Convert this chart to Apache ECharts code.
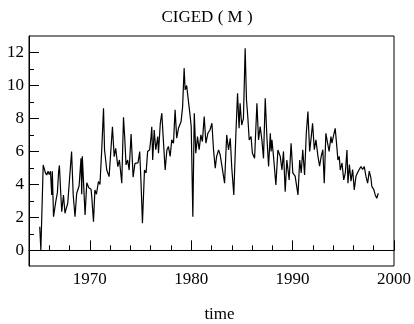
<!DOCTYPE html>
<html>
<head>
<meta charset="utf-8">
<script src="https://cdn.jsdelivr.net/npm/echarts@6/dist/echarts.min.js"></script>
<style>html,body{margin:0;padding:0;background:#fff}#c{width:414px;height:324px}</style>
</head>
<body>
<div id="c"></div>
<script>
var years = [
1965.06,1965.17,1965.40,1965.50,1965.62,1965.75,1965.88,1966.00,1966.12,1966.24,1966.30,1966.42,1966.64,1966.80,1966.92,1967.00,1967.12,1967.23,1967.40,1967.55,1967.70,1967.82,1967.95,
1968.20,1968.36,1968.54,1968.70,1968.94,1969.13,1969.20,1969.26,1969.53,1969.70,1969.90,1970.12,1970.19,1970.36,1970.50,1970.65,1970.85,1971.00,1971.18,1971.35,1971.45,1971.67,1971.90,
1972.23,1972.40,1972.55,1972.76,1972.92,1973.15,1973.32,1973.45,1973.57,1973.73,1973.88,1974.07,1974.27,1974.45,1974.75,1974.92,1975.05,1975.19,1975.39,1975.55,1975.70,1975.90,
1976.04,1976.11,1976.20,1976.35,1976.50,1976.70,1976.77,1976.95,1977.10,1977.25,1977.43,1977.60,1977.75,1977.92,1978.08,1978.25,1978.41,1978.57,1978.74,1979.00,1979.15,1979.30,
1979.40,1979.55,1979.73,1979.90,1980.00,1980.16,1980.30,1980.45,1980.62,1980.78,1980.95,1981.10,1981.28,1981.45,1981.64,1981.85,1982.04,1982.20,1982.37,1982.50,1982.70,1982.85,
1983.05,1983.29,1983.50,1983.68,1983.85,1984.00,1984.20,1984.40,1984.57,1984.72,1984.82,1984.98,1985.15,1985.32,1985.45,1985.58,1985.72,1985.90,1986.03,1986.25,1986.48,1986.64,
1986.80,1986.97,1987.13,1987.30,1987.46,1987.63,1987.80,1987.88,1987.96,1988.12,1988.35,1988.55,1988.78,1988.95,1989.10,1989.27,1989.43,1989.66,1989.85,1990.02,1990.25,1990.53,
1990.70,1990.85,1991.00,1991.18,1991.35,1991.51,1991.68,1991.84,1991.97,1992.14,1992.30,1992.50,1992.66,1992.82,1992.98,1993.12,1993.28,1993.45,1993.60,1993.78,1993.88,1994.05,
1994.20,1994.33,1994.47,1994.60,1994.70,1994.87,1995.04,1995.20,1995.36,1995.46,1995.60,1995.76,1995.92,1996.08,1996.25,1996.40,1996.57,1996.74,1996.90,1997.07,1997.23,1997.40,
1997.56,1997.72,1997.82,1998.00,1998.15,1998.30,1998.45
];
var values = [
1.43,0.0,5.18,5.28,4.7,4.57,4.8,4.6,4.8,3.36,4.8,2.04,2.95,3.5,4.77,5.15,3.6,2.34,3.36,2.25,2.6,2.85,2.8,
5.99,3.36,2.04,3.45,3.9,5.58,3.4,5.7,2.14,4.1,3.8,3.7,3.26,1.74,3.66,3.4,4.17,4.0,6.19,8.62,6.1,4.87,4.47,
7.5,5.68,6.19,5.08,5.48,4.07,8.07,6.74,5.18,5.48,4.87,7.06,4.43,5.28,5.3,5.99,4.07,1.64,4.87,4.7,6.0,6.1,
6.9,7.5,5.48,7.3,6.1,6.9,5.89,7.71,8.32,6.7,4.87,6.09,6.3,5.7,6.7,6.5,8.52,6.8,7.4,7.81,8.7,11.05,
9.73,10.0,9.02,8.11,7.5,2.04,8.32,5.89,6.9,6.1,7.0,6.6,8.11,6.5,7.1,7.3,7.71,6.09,4.98,5.68,6.09,5.8,
5.03,4.07,7.0,6.09,6.8,5.0,3.36,7.0,9.53,7.4,8.92,7.6,8.0,12.26,9.13,8.1,6.7,6.9,5.9,5.58,8.92,6.7,
7.5,6.7,5.58,9.23,6.9,5.08,7.1,6.0,6.7,5.68,3.96,6.09,5.7,4.87,6.0,3.56,5.48,4.27,6.5,4.7,4.5,3.36,
5.48,4.7,6.1,4.57,7.1,8.42,6.0,6.9,7.71,6.1,6.7,5.7,5.1,5.7,6.1,4.07,7.1,6.5,6.0,6.9,6.5,7.0,
7.4,6.5,5.48,5.7,4.87,5.3,4.27,4.7,6.09,4.07,5.2,4.2,4.9,3.66,4.5,4.7,4.9,5.08,4.9,5.08,4.5,4.07,
4.8,4.4,3.86,3.7,3.36,3.16,3.46
];
var xLabelTicks = [1970, 1980, 1990, 2000];
var xMinorTicks = [1966, 1968, 1972, 1974, 1976, 1978, 1982, 1984, 1986, 1988, 1992, 1994, 1996, 1998];
var yLabelTicks = [0, 2, 4, 6, 8, 10, 12];
var yMinorTicks = [1, 3, 5, 7, 9, 11];
var titleText = 'CIGED ( M )';
var xName = 'time';

var data = years.map(function (y, i) { return [y, values[i]]; });
var font = 'Liberation Serif';
var chart = echarts.init(document.getElementById('c'), null, {renderer: 'canvas'});
var xBase = {type: 'value', min: 1964, max: 2000, splitLine: {show: false}};
var yBase = {type: 'value', min: -0.95, max: 13, splitLine: {show: false}};
function plain(v) { return String(v); }
chart.setOption({
  animation: false,
  backgroundColor: '#fff',
  title: {text: titleText, left: 'center', top: 4, textStyle: {fontFamily: font, fontSize: 17, fontWeight: 'normal', color: '#000'}},
  grid: {left: 29, right: 20, top: 36, bottom: 58, outerBoundsMode: 'none', containLabel: false, show: true, borderColor: '#000', borderWidth: 1, backgroundColor: 'transparent'},
  xAxis: [
    Object.assign({}, xBase, {
      name: xName, nameLocation: 'middle', nameGap: 40,
      nameTextStyle: {fontFamily: font, fontSize: 17, color: '#000', padding: [0, 0, 0, 16]},
      axisLine: {show: true, lineStyle: {color: '#000'}},
      axisTick: {show: true, inside: true, length: 10, customValues: xLabelTicks, lineStyle: {color: '#000'}},
      axisLabel: {show: true, customValues: xLabelTicks, formatter: plain, margin: 5, fontFamily: font, fontSize: 17, color: '#000'}
    }),
    Object.assign({}, xBase, {
      position: 'bottom',
      axisLine: {show: false},
      axisTick: {show: true, inside: true, length: 5, customValues: xMinorTicks, lineStyle: {color: '#000'}},
      axisLabel: {show: false}
    })
  ],
  yAxis: [
    Object.assign({}, yBase, {
      axisLine: {show: true, lineStyle: {color: '#000'}},
      axisTick: {show: true, inside: true, length: 10, customValues: yLabelTicks, lineStyle: {color: '#000'}},
      axisLabel: {show: true, customValues: yLabelTicks, formatter: plain, margin: 5, fontFamily: font, fontSize: 17, color: '#000'}
    }),
    Object.assign({}, yBase, {
      position: 'left',
      axisLine: {show: false},
      axisTick: {show: true, inside: true, length: 5, customValues: yMinorTicks, lineStyle: {color: '#000'}},
      axisLabel: {show: false}
    })
  ],
  series: [{
    type: 'line', data: data, xAxisIndex: 0, yAxisIndex: 0,
    showSymbol: false, symbol: 'none',
    lineStyle: {color: '#000', width: 1.2}
  }]
});
</script>
</body>
</html>
